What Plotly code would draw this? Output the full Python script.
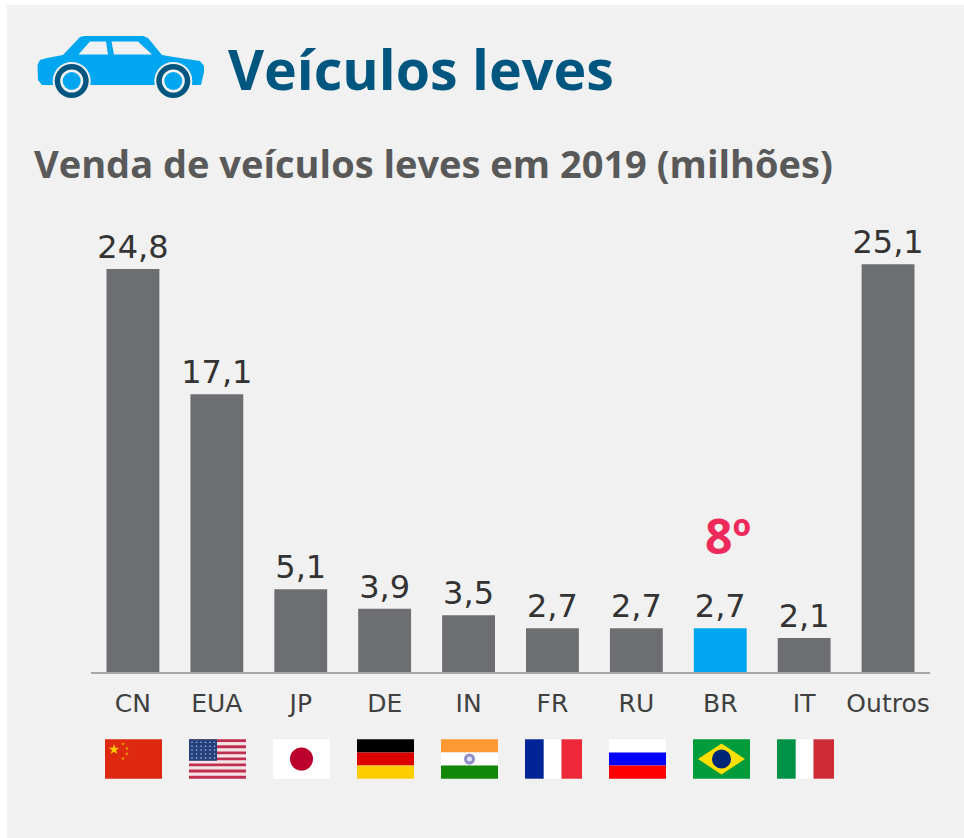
import math
import plotly.graph_objects as go

categories = ["CN", "EUA", "JP", "DE", "IN", "FR", "RU", "BR", "IT", "Outros"]
values = [24.8, 17.1, 5.1, 3.9, 3.5, 2.7, 2.7, 2.7, 2.1, 25.1]
labels = ["24,8", "17,1", "5,1", "3,9", "3,5", "2,7", "2,7", "2,7", "2,1", "25,1"]
highlight = "BR"
title = "Veículos leves"
subtitle = "Venda de veículos leves em 2019 (milhões)"
rank_label = "8º"

W, H = 964, 838
GREY, BLUE, BG, DARK = "#6d6e71", "#00a7f0", "#f1f1f1", "#00567f"
FONT = "Open Sans"
FONT2 = "DejaVu Sans"

def X(p): return p / W
def Y(p): return 1 - p / H

shapes = []

def rect(x0, y0, x1, y1, color):
    shapes.append(dict(type="rect", xref="paper", yref="paper", x0=X(x0), x1=X(x1),
                       y0=Y(y0), y1=Y(y1), fillcolor=color, line_width=0, layer="below"))

def circle(cx, cy, r, color, layer="below"):
    shapes.append(dict(type="circle", xref="paper", yref="paper", x0=X(cx - r), x1=X(cx + r),
                       y0=Y(cy - r), y1=Y(cy + r), fillcolor=color, line_width=0, layer=layer))

def poly(points, color):
    d = "M" + " L".join(f"{X(a):.5f},{Y(b):.5f}" for a, b in points) + " Z"
    shapes.append(dict(type="path", xref="paper", yref="paper", path=d, fillcolor=color,
                       line_width=0, layer="below"))

def star(cx, cy, r, color):
    pts = []
    for i in range(10):
        rr = r if i % 2 == 0 else r * 0.4
        a = -math.pi / 2 + i * math.pi / 5
        pts.append((cx + rr * math.cos(a), cy + rr * math.sin(a)))
    poly(pts, color)

rect(7, 5, W, H, BG)

# car icon
poly([(37.5, 65), (40, 60), (47, 58), (63, 55), (80, 37), (84, 36), (143, 36), (148, 38), (162, 55),
      (180, 58), (200, 61), (204, 66), (204, 72), (201, 85), (150, 85), (94, 85), (42, 85), (38, 80)], BLUE)
poly([(78.5, 54.5), (90, 41.5), (106, 41.5), (108, 54.5)], BG)
poly([(114, 54.5), (111.5, 41.5), (138, 41.5), (152, 54.5)], BG)
for cx in (71.7, 173.3):
    circle(cx, 81, 19, BG)
    circle(cx, 81, 17, DARK)
    circle(cx, 81, 11.5, BG)
    circle(cx, 81, 9, BLUE)

# flags
FW, FT, FB = 57, 739.3, 778.7
FH = FB - FT

def hbands(x, cols, fracs=None):
    n = len(cols)
    y = FT
    for i, c in enumerate(cols):
        h = FH * (fracs[i] if fracs else 1 / n)
        rect(x, y, x + FW, y + h, c)
        y += h

def vbands(x, cols, fracs):
    p = x
    for c, f in zip(cols, fracs):
        rect(p, FT, p + FW * f, FB, c)
        p += FW * f

fx = [105 + 84 * i for i in range(9)]
# CN
rect(fx[0], FT, fx[0] + FW, FB, "#de2910")
star(fx[0] + 9, 749.5, 5.5, "#ffc800")
for dx, dy in [(18, 744), (22, 748.5), (22, 754), (18, 758.5)]:
    star(fx[0] + dx, dy, 2, "#f0a000")
# US
hbands(fx[1], ["#bf2e4f" if i % 2 == 0 else "#f4e4e8" for i in range(13)])
rect(fx[1], FT, fx[1] + 28, FT + 21.5, "#26427e")
for r in range(5):
    for c in range(6):
        circle(fx[1] + 3 + c * 4.5, FT + 3 + r * 3.9, 0.8, "#a8b4d0")
# JP
rect(fx[2], FT, fx[2] + FW, FB, "#ffffff")
circle(fx[2] + FW / 2, (FT + FB) / 2, 11.5, "#bc002d")
# DE
hbands(fx[3], ["#000000", "#dd0000", "#ffce00"])
# IN
hbands(fx[4], ["#ff9933", "#ffffff", "#138808"])
circle(fx[4] + FW / 2, (FT + FB) / 2, 5.5, "#8f8fc8")
circle(fx[4] + FW / 2, (FT + FB) / 2, 2.5, "#e4e4f4")
# FR
vbands(fx[5], ["#002395", "#ffffff", "#ed2939"], [0.33, 0.31, 0.36])
# RU
hbands(fx[6], ["#ffffff", "#0000ff", "#ff0000"])
# BR
rect(fx[7], FT, fx[7] + FW, FB, "#009c3b")
poly([(fx[7] + 5, 759), (fx[7] + 28.5, 743.5), (fx[7] + 52, 759), (fx[7] + 28.5, 774.5)], "#ffdf00")
circle(fx[7] + 28.5, 759, 9.5, "#002776")
# IT
vbands(fx[8], ["#009246", "#ffffff", "#ce2b37"], [0.33, 0.31, 0.36])

colors = [BLUE if c == highlight else GREY for c in categories]

fig = go.Figure(go.Bar(
    x=categories, y=values, marker=dict(color=colors, line_width=0),
    text=labels, textposition="outside", cliponaxis=False, constraintext="none",
    textfont=dict(family=FONT2, size=32, color="#333333"), hoverinfo="skip",
))

annotations = [
    dict(text=title, xref="paper", yref="paper", x=X(226), y=Y(68), xanchor="left",
         yanchor="middle", showarrow=False, font=dict(family=FONT, size=55.5, weight=700, color=DARK)),
    dict(text=subtitle, xref="paper", yref="paper", x=X(32), y=Y(163), xanchor="left",
         yanchor="middle", showarrow=False, font=dict(family=FONT, size=38, weight=700, color="#595959")),
    dict(text=f"<b>{rank_label}</b>", xref="x", yref="y", x=highlight, y=values[categories.index(highlight)],
         xanchor="center", yanchor="bottom", yshift=58, xshift=8, showarrow=False,
         font=dict(family=FONT, size=48, color="#ee2a5b")),
]

fig.update_layout(
    width=W, height=H, margin=dict(l=0, r=0, t=0, b=0), autosize=False,
    paper_bgcolor="#ffffff", plot_bgcolor="rgba(0,0,0,0)", showlegend=False,
    bargap=0.37, shapes=shapes, annotations=annotations,
    xaxis=dict(domain=[X(91), X(930)], type="category", showline=True, linecolor="#a6a6a6", linewidth=1.5,
               showgrid=False, ticks="outside", ticklen=8, tickcolor="rgba(0,0,0,0)",
               tickfont=dict(family=FONT2, size=25, color="#404040"), anchor="y"),
    yaxis=dict(domain=[Y(672), Y(220)], range=[0, 452 / 16.25], visible=False),
)
fig.write_html("out.html", config={"displayModeBar": False},
               post_script="document.body.style.margin='0';document.body.style.overflow='hidden';")
